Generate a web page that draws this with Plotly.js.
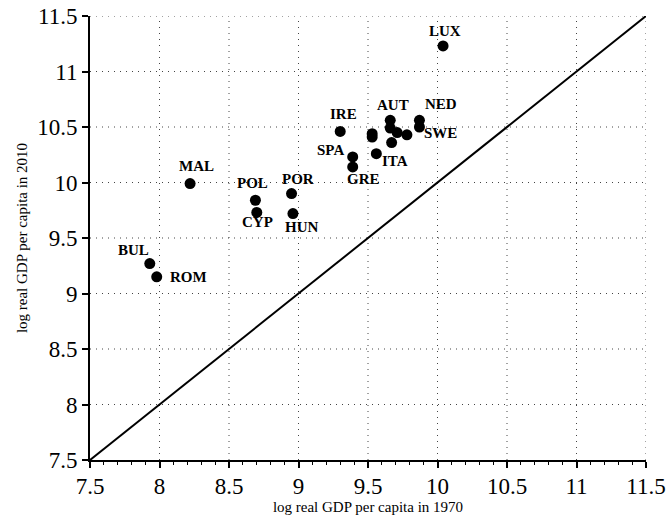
<!DOCTYPE html>
<html>
<head>
<meta charset="utf-8">
<script src="https://cdn.plot.ly/plotly-3.0.1.min.js"></script>
<style>html,body{margin:0;padding:0;background:#fff;}#chart{width:668px;height:520px;}</style>
</head>
<body>
<div id="chart"></div>
<script>
// Data: log real GDP per capita, 1970 (x) vs 2010 (y)
const countries = ['LUX','NED','SWE','AUT','IRE','SPA','ITA','GRE','POL','POR','CYP','HUN','MAL','BUL','ROM','','','','','',''];
const gdp1970 = [10.04, 9.87, 9.87, 9.66, 9.30, 9.39, 9.56, 9.39, 8.69, 8.95, 8.70, 8.96, 8.22, 7.93, 7.98, 9.66, 9.71, 9.78, 9.67, 9.53, 9.53];
const gdp2010 = [11.23, 10.56, 10.50, 10.56, 10.46, 10.23, 10.26, 10.14, 9.84, 9.90, 9.73, 9.72, 9.99, 9.27, 9.15, 10.49, 10.45, 10.43, 10.36, 10.44, 10.41];
const axisRange = [7.5, 11.5];
const tickVals = [7.5, 8, 8.5, 9, 9.5, 10, 10.5, 11, 11.5];
const tickText = ['7.5', '8', '8.5', '9', '9.5', '10', '10.5', '11', '11.5'];

// label offsets in pixels (dx right, dy down) relative to the point
const labelOffsets = {
  LUX: [2, -15], NED: [22, -16], SWE: [21, 6], AUT: [3, -15], IRE: [3, -17],
  SPA: [-22, -7], ITA: [19, 7], GRE: [11, 12], POL: [-3, -17], POR: [6, -15],
  CYP: [1, 10], HUN: [9, 13], MAL: [6, -18], BUL: [-16, -14], ROM: [32, 0]
};

const serif = '"Liberation Serif", "Times New Roman", Times, serif';

const traces = [
  {
    x: axisRange, y: axisRange, mode: 'lines', type: 'scatter',
    line: {color: '#000', width: 2}, hoverinfo: 'skip', cliponaxis: true
  },
  {
    x: gdp1970, y: gdp2010, mode: 'markers', type: 'scatter',
    marker: {color: '#000', size: 11}, text: countries, cliponaxis: false
  }
];

const annotations = [];
countries.forEach((c, i) => {
  if (!c) return;
  const off = labelOffsets[c] || [0, -15];
  annotations.push({
    x: gdp1970[i], y: gdp2010[i], xref: 'x', yref: 'y', text: '<b>' + c + '</b>',
    showarrow: false, xshift: off[0], yshift: -off[1],
    font: {family: serif, size: 15, color: '#000'}
  });
});

// dotted grid lines at every tick value (drawn as layout shapes below the data)
const gridStyle = {color: '#444', width: 1, dash: '1px,5px'};
const shapes = [];
tickVals.slice(1).forEach(v => {
  shapes.push({type: 'line', xref: 'x', yref: 'paper', x0: v, x1: v, y0: 0, y1: 1, line: gridStyle, layer: 'below'});
});
tickVals.slice(1).forEach(v => {
  shapes.push({type: 'line', xref: 'paper', yref: 'y', x0: 0, x1: 1, y0: v, y1: v, line: gridStyle, layer: 'below'});
});

const axisCommon = {
  range: axisRange, tickvals: tickVals, ticktext: tickText,
  showgrid: false,
  zeroline: false, showline: true, linecolor: '#000', linewidth: 2,
  ticks: 'outside', ticklen: 6, tickwidth: 2, tickcolor: '#000',
  tickfont: {family: serif, size: 23, color: '#000'}, mirror: false
};

const layout = {
  width: 668, height: 520,
  margin: {l: 90, r: 22, t: 16, b: 60},
  paper_bgcolor: '#fff', plot_bgcolor: '#fff',
  showlegend: false,
  font: {family: serif, color: '#000'},
  xaxis: Object.assign({}, axisCommon, {
    ticklabelstandoff: -2,
    title: {text: 'log real GDP per capita in 1970', font: {family: serif, size: 15, color: '#000'}, standoff: 0},
    minor: {dtick: 0.1, ticks: 'outside', ticklen: 3, tickcolor: '#000', tickwidth: 1, showgrid: false}
  }),
  yaxis: Object.assign({}, axisCommon, {
    title: {text: 'log real GDP per capita in 2010', font: {family: serif, size: 15, color: '#000'}, standoff: 6}
  }),
  shapes: shapes,
  annotations: annotations
};

Plotly.newPlot('chart', traces, layout, {displayModeBar: false, staticPlot: true});
</script>
</body>
</html>
